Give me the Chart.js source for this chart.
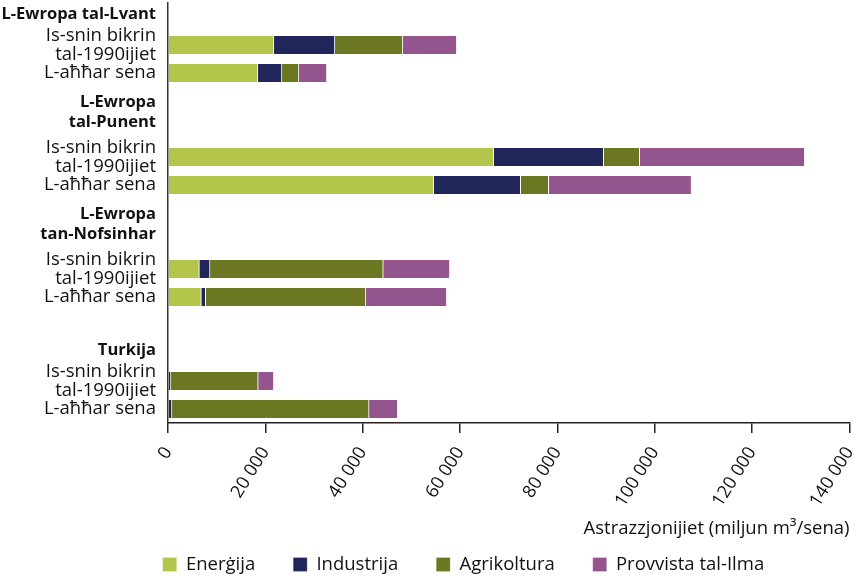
<!DOCTYPE html>
<html><head><meta charset="utf-8">
<script src="https://cdn.jsdelivr.net/npm/chart.js@4"></script>
<style>html,body{margin:0;padding:0;background:#fff}#wrap{width:859px;height:576px;position:relative}</style>
</head><body><div id="wrap"><canvas id="c"></canvas></div>
<script>
// ---- data ----
const regions = [['L-Ewropa tal-Lvant'], ['L-Ewropa', 'tal-Punent'], ['L-Ewropa', 'tan-Nofsinhar'], ['Turkija']];
const periods = [['Is-snin bikrin', 'tal-1990ijiet'], ['L-aħħar sena']];
const seriesNames = ['Enerġija', 'Industrija', 'Agrikoltura', 'Provvista tal-Ilma'];
// order: Lvant early-1990s, Lvant latest, Punent early, Punent latest, Nofsinhar early, Nofsinhar latest, Turkija early, Turkija latest
const energy      = [21760, 18480, 66900, 54600,  6430,  6840,     0,     0];
const industry    = [12520,  4920, 22600, 17850,  2200,   900,   600,   800];
const agriculture = [13960,  3490,  7400,  5750, 35580, 32900, 17920, 40500];
const water       = [11090,  5750, 33900, 29350, 13690, 16630,  3220,  5890];
const xTicks = [0, 20000, 40000, 60000, 80000, 100000, 120000, 140000];
const axisTitle = 'Astrazzjonijiet (miljun m³/sena)';

// ---- styling ----
const FONT = '"Open Sans", "Noto Sans", sans-serif';
const TXT = '#111111';
const colors = ['#b3c64b', '#20255a', '#6b7821', '#94548d'];

// ---- layout of category slots ----
const slotOf = i => 4 * Math.floor(i / periods.length) + 1 + (i % periods.length);
const yTicks = [];
regions.forEach((lines, r) => {
  yTicks.push({ value: 4 * r - 0.1 - (lines.length - 1) * 0.5, label: lines, header: true });
  periods.forEach((p, k) => yTicks.push({ value: 4 * r + 1 + k, label: p, header: false }));
});
const findTick = v => yTicks.reduce((a, b) => Math.abs(b.value - v) < Math.abs(a.value - v) ? b : a);

const seriesData = [energy, industry, agriculture, water];
const datasets = seriesData.map((arr, s) => ({
  label: seriesNames[s],
  data: arr.map((v, i) => ({ x: v, y: slotOf(i) })),
  backgroundColor: colors[s],
  borderColor: '#ffffff',
  borderWidth: { top: 0, right: 1, bottom: 0, left: 0 },
  borderSkipped: false,
  barThickness: 18
}));

const fmt = v => String(v).replace(/\B(?=(\d{3})+(?!\d))/g, ' ');

const legendPlace = {
  id: 'legendPlace',
  beforeDraw(chart) {
    const lg = chart.legend;
    const lo = lg.options.labels;
    const P = lo.padding;
    const itemH = Math.max(lo.font.size, lo.boxHeight);
    lg.left = 162.7 - P;
    lg.right = chart.width;
    lg.top = 564.5 - itemH / 2 - P;
    lg.bottom = chart.height;
  }
};

new Chart(document.getElementById('c'), {
  type: 'bar',
  data: { datasets },
  options: {
    indexAxis: 'y',
    responsive: true,
    maintainAspectRatio: false,
    animation: false,
    layout: { padding: { top: 3, right: 9.5, bottom: 0, left: 0 } },
    scales: {
      x: {
        type: 'linear',
        stacked: true,
        offset: false,
        min: 0, max: 140000,
        afterBuildTicks: s => { s.ticks = xTicks.map(v => ({ value: v })); },
        afterFit: s => { s.paddingLeft = 0; s.paddingRight = 0; s.height = 113; },
        grid: { display: true, drawOnChartArea: false, drawTicks: true, tickLength: 10, color: '#222', lineWidth: 1.5 },
        border: { display: true, color: '#222', width: 1.5 },
        ticks: {
          color: TXT, font: { family: FONT, size: 18 },
          minRotation: 58, maxRotation: 58, padding: 10, autoSkip: false,
          callback: v => fmt(v)
        },
        title: { display: true, text: axisTitle, align: 'end', color: TXT,
                 font: { family: FONT, size: 18.5, lineHeight: 0.8 }, padding: 0 }
      },
      y: {
        type: 'linear',
        stacked: true,
        reverse: true,
        offset: false,
        min: -0.5, max: 4 * regions.length - 1.5,
        afterBuildTicks: s => { s.ticks = yTicks.map(t => ({ value: t.value })); },
        afterFit: s => { s.paddingTop = 0; s.paddingBottom = 0; s.width = 168; },
        grid: { display: false },
        border: { display: true, color: '#333', width: 1.5 },
        ticks: {
          autoSkip: false, padding: 4, color: TXT,
          font: ctx => {
            const h = ctx.tick && findTick(ctx.tick.value).header;
            return h ? { family: FONT, size: 16.5, weight: 'bold', lineHeight: 1.2 }
                     : { family: FONT, size: 18.5, weight: 'normal', lineHeight: 1.0 };
          },
          callback: v => findTick(v).label
        }
      }
    },
    plugins: {
      tooltip: { enabled: false },
      legend: {
        position: 'bottom', align: 'start', maxHeight: 40,
        labels: { boxWidth: 14, boxHeight: 14, padding: 38, color: TXT, font: { family: FONT, size: 18.5 } }
      }
    }
  },
  plugins: [legendPlace]
});
</script></body></html>
